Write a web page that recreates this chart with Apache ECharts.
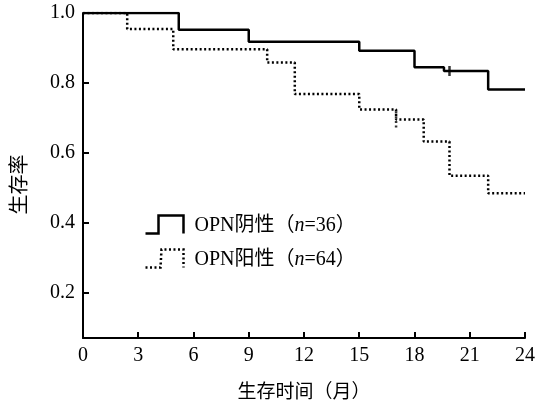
<!DOCTYPE html>
<html>
<head>
<meta charset="utf-8">
<script src="https://cdn.jsdelivr.net/npm/echarts@6/dist/echarts.min.js"></script>
<style>
  html, body { margin: 0; padding: 0; background: #fff; }
  #chart { width: 538px; height: 405px; }
</style>
</head>
<body>
<div id="chart"></div>
<script>
// Kaplan-Meier steps (months, survival)
const negName = 'OPN阴性（n=36）'
const negTimes = [0, 5.2, 9, 15, 18, 19.6, 22, 24]
const negSurv = [1.0, 0.952, 0.918, 0.892, 0.845, 0.834, 0.781, 0.781]
const negCensor = [[19.9, 0.834]]

const posName = 'OPN阳性（n=64）'
const posTimes = [0, 2.4, 4.9, 10, 11.5, 15, 17, 18.5, 19.9, 22, 24]
const posSurv = [1.0, 0.954, 0.896, 0.858, 0.768, 0.724, 0.695, 0.632, 0.534, 0.484, 0.484]
const posCensor = [[17, 0.695]]

const yTicks = [0.2, 0.4, 0.6, 0.8, 1.0]

const serif = '"Liberation Serif", "Times New Roman", "Noto Sans CJK SC", serif'
const cjk = '"Noto Sans CJK SC", sans-serif'

const pairs = (xs, ys) => xs.map((x, i) => [x, ys[i]])

const chart = echarts.init(document.getElementById('chart'))

const option = {
  animation: false,
  backgroundColor: '#fff',
  grid: { left: 81, right: 7, top: 13, bottom: 66 },
  legend: {
    orient: 'vertical',
    left: 143,
    top: 213,
    padding: 0,
    itemWidth: 38,
    itemHeight: 18,
    itemGap: 11,
    selectedMode: false,
    formatter: name => name.replace('n=', '{i|n}='),
    textStyle: {
      fontFamily: serif,
      fontSize: 20,
      color: '#000',
      padding: [2, 0, 0, 6],
      rich: { i: { fontStyle: 'italic', fontFamily: serif, fontSize: 20, color: '#000' } }
    },
    data: [
      {
        name: negName,
        icon: 'path://M0,18L13,18L13,0L38,0L38,18',
        itemStyle: { color: 'none', borderColor: '#000', borderWidth: 2.5, borderType: 'solid' }
      },
      {
        name: posName,
        icon: 'path://M0,18L15,18L16,0L38,0L38,18',
        itemStyle: { color: 'none', borderColor: '#000', borderWidth: 2.5, borderType: [2, 2.5] }
      }
    ]
  },
  xAxis: {
    type: 'value',
    min: 0,
    max: 24,
    interval: 3,
    name: '生存时间（月）',
    nameLocation: 'middle',
    nameGap: 43,
    nameTextStyle: { fontFamily: cjk, fontSize: 19, color: '#000' },
    axisLine: { lineStyle: { color: '#000', width: 2 } },
    axisTick: { inside: true, length: 6, lineStyle: { color: '#000', width: 2 } },
    axisLabel: { fontFamily: serif, fontSize: 20, color: '#000', margin: 8 },
    splitLine: { show: false }
  },
  yAxis: {
    type: 'value',
    min: 0.07,
    max: 1.0,
    name: '生存率',
    nameLocation: 'middle',
    nameRotate: 90,
    nameGap: 55,
    nameTextStyle: { fontFamily: cjk, fontSize: 20, color: '#000', padding: [0, 0, 0, -18] },
    axisLine: { lineStyle: { color: '#000', width: 2 } },
    axisTick: { inside: true, length: 6, customValues: yTicks, lineStyle: { color: '#000', width: 2 } },
    axisLabel: {
      fontFamily: serif, fontSize: 20, color: '#000', margin: 8,
      customValues: yTicks,
      formatter: v => v.toFixed(1)
    },
    splitLine: { show: false }
  },
  series: [
    {
      name: posName,
      type: 'line',
      step: 'end',
      symbol: 'none',
      data: pairs(posTimes, posSurv),
      lineStyle: { color: '#000', width: 2.5, type: [2, 2.5] },
      itemStyle: { color: '#000' }
    },
    {
      name: negName,
      type: 'line',
      step: 'end',
      symbol: 'none',
      data: pairs(negTimes, negSurv),
      lineStyle: { color: '#000', width: 2.5 },
      itemStyle: { color: '#000' },
      z: 3
    },
    {
      type: 'scatter',
      data: negCensor,
      symbol: 'rect',
      symbolSize: [2.5, 10],
      itemStyle: { color: '#000' },
      silent: true
    },
    {
      type: 'scatter',
      data: posCensor,
      symbol: 'path://M0,0h2v2h-2zM0,4.6h2v2h-2zM0,9.2h2v2h-2zM0,13.8h2v2h-2z',
      symbolSize: [2.5, 16],
      itemStyle: { color: '#000' },
      silent: true
    }
  ]
}

chart.setOption(option)
</script>
</body>
</html>
